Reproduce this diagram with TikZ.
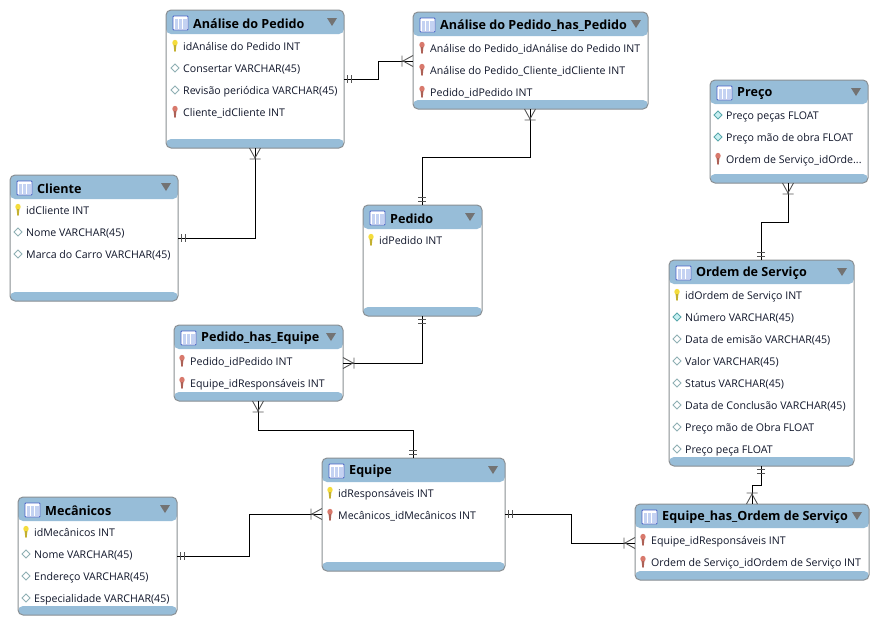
\documentclass[tikz,border=0pt]{standalone}
\usepackage{fontspec}
\setmainfont{Open Sans}
\usetikzlibrary{arrows.meta,calc}
\definecolor{hdrblue}{HTML}{97BDD8}
\definecolor{edgegrey}{HTML}{8A8F93}
\definecolor{rowink}{HTML}{10162A}
\definecolor{tickgrey}{HTML}{555555}
\definecolor{iconedge}{HTML}{4A62C8}
\definecolor{iconfill}{HTML}{C4D2F2}
\definecolor{keyyellow}{HTML}{F4DC3C}
\definecolor{keyred}{HTML}{D8796C}
\definecolor{diagrey}{HTML}{8FB0B4}
\definecolor{diafill}{HTML}{C8F0F2}
\definecolor{diateal}{HTML}{58A8AC}
\pgfdeclarearrow{
  name=crowmark,
  setup code={\pgfarrowssettipend{0pt}\pgfarrowssetlineend{0pt}\pgfarrowssetbackend{-11pt}\pgfarrowssetvisualbackend{-11pt}},
  drawing code={
    \pgfsetlinewidth{0.9pt}\pgfsetstrokecolor{tickgrey}
    \pgfpathmoveto{\pgfqpoint{-11pt}{-5.5pt}}\pgfpathlineto{\pgfqpoint{-11pt}{5.5pt}}
    \pgfpathmoveto{\pgfqpoint{0pt}{-5.5pt}}\pgfpathlineto{\pgfqpoint{-10pt}{0pt}}\pgfpathlineto{\pgfqpoint{0pt}{5.5pt}}
    \pgfusepathqstroke},
  defaults={}
}
\pgfdeclarearrow{
  name=dblmark,
  setup code={\pgfarrowssettipend{0pt}\pgfarrowssetlineend{0pt}\pgfarrowssetbackend{-8pt}\pgfarrowssetvisualbackend{-8pt}},
  drawing code={
    \pgfsetlinewidth{0.9pt}\pgfsetstrokecolor{tickgrey}
    \pgfpathmoveto{\pgfqpoint{-3.5pt}{-4pt}}\pgfpathlineto{\pgfqpoint{-3.5pt}{4pt}}
    \pgfpathmoveto{\pgfqpoint{-7.5pt}{-4pt}}\pgfpathlineto{\pgfqpoint{-7.5pt}{4pt}}
    \pgfusepathqstroke},
  defaults={}
}
\tikzset{
  x=1pt,y=-1pt,
  tbl/.style={draw=edgegrey,line width=1pt,fill=white,rounded corners=5pt,inner sep=0pt,outer sep=0pt,anchor=north west,
    path picture={
      \fill[hdrblue] (path picture bounding box.north west) rectangle ([yshift=-24pt]path picture bounding box.north east);
      \fill[hdrblue] (path picture bounding box.south west) rectangle ([yshift=9pt]path picture bounding box.south east);
    }},
  ttl/.style={anchor=west,inner sep=0pt,font=\fontsize{12.6}{14}\selectfont\bfseries,text=black},
  rowtxt/.style={anchor=west,inner sep=0pt,font=\fontsize{10.6}{13}\selectfont,text=rowink,text height=8pt,text depth=2pt},
  rel/.style={line width=1pt,black},
  onemany/.style={rel,{dblmark}-{crowmark}},
  tableicon/.pic={
    \draw[iconedge,fill=white,line width=0.9pt,rounded corners=0.8pt] (0,0) rectangle (15,14);
    \fill[iconfill] (1.5,2.5) rectangle (13.5,12.5);
    \draw[white,line width=0.7pt] (5.5,2.5)--(5.5,12.5) (9.5,2.5)--(9.5,12.5);
  },
  menutri/.pic={\fill[black!55] (-5,-4)--(5,-4)--(0,4)--cycle;},
  pkkey/.pic={
    \fill[#1] (0,-3.2) ellipse (2.7 and 3);
    \fill[#1!80!black] (-1.4,-1)--(1.4,-1)--(0.7,5.5)--(-0.7,5.5)--cycle;
  },
  dia/.pic={\draw[diagrey,line width=0.8pt,fill=white] (-4,0)--(0,-4)--(4,0)--(0,4)--cycle;},
  diafull/.pic={\draw[diateal,line width=0.8pt,fill=diafill] (-4,0)--(0,-4)--(4,0)--(0,4)--cycle;}
}
\newcommand{\Tbl}[6]{%
  \pgfmathsetmacro{\tw}{#4-#2}\pgfmathsetmacro{\th}{#5-#3}
  \node[tbl,minimum width=\tw pt,minimum height=\th pt] (#1) at (#2,#3) {};
  \pic at ($(#1.north west)+(7,6)$) {tableicon};
  \node[ttl] (#1title) at ($(#1.north west)+(27,13.5)$) {#6};
  \pic at ($(#1.north east)+(-12,12)$) {menutri};
}
\newcommand{\KeyRow}[4]{\pic at (#2-8,#3) {pkkey=keyyellow};\node[rowtxt] (#1) at (#2,#3+1.5) {#4};}
\newcommand{\FkRow}[4]{\pic at (#2-8,#3) {pkkey=keyred};\node[rowtxt] (#1) at (#2,#3+1.5) {#4};}
\newcommand{\DiaRow}[4]{\pic at (#2-8,#3) {dia};\node[rowtxt] (#1) at (#2,#3+1.5) {#4};}
\newcommand{\FullRow}[4]{\pic at (#2-8,#3) {diafull};\node[rowtxt] (#1) at (#2,#3+1.5) {#4};}
\begin{document}
\begin{tikzpicture}
\useasboundingbox (0,0) rectangle (878,625);
\fill[white] (0,0) rectangle (878,625);

\Tbl{ap}{166}{10}{344}{148}{Análise do Pedido}
\KeyRow{ap1}{183}{46}{idAnálise do Pedido INT}
\DiaRow{ap2}{183}{68}{Consertar VARCHAR(45)}
\DiaRow{ap3}{183}{90}{Revisão periódica VARCHAR(45)}
\FkRow{ap4}{183}{112}{Cliente\_idCliente INT}

\Tbl{ahp}{413}{12}{648}{109}{Análise do Pedido\_has\_Pedido}
\FkRow{ahp1}{430}{48}{Análise do Pedido\_idAnálise do Pedido INT}
\FkRow{ahp2}{430}{70}{Análise do Pedido\_Cliente\_idCliente INT}
\FkRow{ahp3}{430}{92}{Pedido\_idPedido INT}

\Tbl{pr}{710}{80}{868}{183}{Preço}
\FullRow{pr1}{726}{115}{Preço peças FLOAT}
\FullRow{pr2}{726}{137}{Preço mão de obra FLOAT}
\FkRow{pr3}{726}{159}{Ordem de Serviço\_idOrde...}

\Tbl{cl}{10}{175}{178}{301}{Cliente}
\KeyRow{cl1}{26}{210}{idCliente INT}
\DiaRow{cl2}{26}{232}{Nome VARCHAR(45)}
\DiaRow{cl3}{26}{254}{Marca do Carro VARCHAR(45)}

\Tbl{pe}{363}{205}{482}{316}{Pedido}
\KeyRow{pe1}{379}{240}{idPedido INT}

\Tbl{os}{669}{260}{854}{466}{Ordem de Serviço}
\KeyRow{os1}{685}{295}{idOrdem de Serviço INT}
\FullRow{os2}{685}{317}{Número VARCHAR(45)}
\DiaRow{os3}{685}{339}{Data de emisão VARCHAR(45)}
\DiaRow{os4}{685}{361}{Valor VARCHAR(45)}
\DiaRow{os5}{685}{383}{Status VARCHAR(45)}
\DiaRow{os6}{685}{405}{Data de Conclusão VARCHAR(45)}
\DiaRow{os7}{685}{427}{Preço mão de Obra FLOAT}
\DiaRow{os8}{685}{449}{Preço peça FLOAT}

\Tbl{phe}{174}{325}{343}{401}{Pedido\_has\_Equipe}
\FkRow{phe1}{190}{361}{Pedido\_idPedido INT}
\FkRow{phe2}{190}{383}{Equipe\_idResponsáveis INT}

\Tbl{eq}{322}{458}{505}{571}{Equipe}
\KeyRow{eq1}{338}{493}{idResponsáveis INT}
\FkRow{eq2}{338}{515}{Mecânicos\_idMecânicos INT}

\Tbl{me}{18}{497}{177}{615}{Mecânicos}
\KeyRow{me1}{34}{532}{idMecânicos INT}
\DiaRow{me2}{34}{554}{Nome VARCHAR(45)}
\DiaRow{me3}{34}{576}{Endereço VARCHAR(45)}
\DiaRow{me4}{34}{598}{Especialidade VARCHAR(45)}

\Tbl{eo}{635}{504}{869}{580}{Equipe\_has\_Ordem de Serviço}
\FkRow{eo1}{651}{540}{Equipe\_idResponsáveis INT}
\FkRow{eo2}{651}{562}{Ordem de Serviço\_idOrdem de Serviço INT}

\draw[onemany] (ap.east |- 0,79) -- (378,79) -- (378,61) -- (ahp.west |- 0,61);
\draw[onemany] (cl.east |- 0,238) -- (255,238) -- (255,0 |- ap.south);
\draw[onemany] (422,0 |- pe.north) -- (422,157) -- (530,157) -- (530,0 |- ahp.south);
\draw[onemany] (422,0 |- pe.south) -- (422,363) -- (phe.east |- 0,363);
\draw[onemany] (413,0 |- eq.north) -- (413,430) -- (258,430) -- (258,0 |- phe.south);
\draw[onemany] (me.east |- 0,556) -- (249,556) -- (249,514) -- (eq.west |- 0,514);
\draw[onemany] (eq.east |- 0,514) -- (571,514) -- (571,543) -- (eo.west |- 0,543);
\draw[onemany] (761,0 |- os.south) -- (761,485) -- (752,485) -- (752,0 |- eo.north);
\draw[onemany] (761,0 |- os.north) -- (761,222) -- (788,222) -- (788,0 |- pr.south);
\end{tikzpicture}
\end{document}
